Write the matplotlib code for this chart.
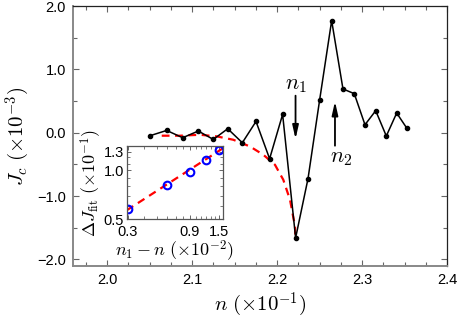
import numpy as np
import matplotlib
matplotlib.use("Agg")
import matplotlib.pyplot as plt
from matplotlib.ticker import MultipleLocator, FixedLocator, NullFormatter, FixedFormatter

plt.rcParams["font.family"] = ["Liberation Sans", "DejaVu Sans"]
plt.rcParams["mathtext.fontset"] = "cm"

# ---- main series: J_c vs n ----
n_vals = [2.0506, 2.0702, 2.0890, 2.1074, 2.1251, 2.1420, 2.1592, 2.1753,
          2.1913, 2.2066, 2.2219, 2.2365, 2.2502, 2.2643, 2.2776, 2.2909,
          2.3035, 2.3161, 2.3286, 2.3408, 2.3526]
jc_vals = [-0.047, 0.036, -0.079, 0.027, -0.106, 0.063, -0.158, 0.178,
           -0.411, 0.289, -1.66, -0.723, 0.522, 1.77, 0.691, 0.617,
           0.126, 0.348, -0.052, 0.311, 0.074]

# ---- fitted curve ----
fit_n = [2.0644, 2.0859, 2.1094, 2.1291, 2.1486, 2.1682, 2.1839, 2.1976,
         2.2074, 2.2153, 2.2212, 2.2215]
fit_jc = [-0.047, -0.047, -0.032, -0.058, -0.111, -0.217, -0.348, -0.506,
          -0.743, -1.059, -1.481, -1.665]

# ---- inset: Delta J_fit vs n1 - n ----
dn_vals = [0.3, 0.6, 0.9, 1.2, 1.5]
dj_vals = [0.576, 0.808, 0.98, 1.155, 1.34]
line_dn = [0.295, 1.63]
line_dj = [0.568, 1.37]

fig = plt.figure(figsize=(4.58, 3.19), dpi=100)
ax = fig.add_axes([0.1594, 0.167, 0.8166, 0.814])

ax.plot(fit_n, fit_jc, color="red", ls=(0, (3.5, 2.5)), lw=1.6, zorder=2)
ax.plot(n_vals, jc_vals, color="black", lw=1.1, marker="o", ms=3, zorder=3)

ax.set_xlim(1.96, 2.4)
ax.set_ylim(-2.1, 2.0)
ax.xaxis.set_major_locator(FixedLocator([2.0, 2.1, 2.2, 2.3, 2.4]))
ax.xaxis.set_minor_locator(MultipleLocator(0.025))
ax.yaxis.set_major_locator(FixedLocator([-2.0, -1.0, 0.0, 1.0, 2.0]))
ax.yaxis.set_minor_locator(MultipleLocator(0.5))
ax.xaxis.set_major_formatter(plt.FuncFormatter(lambda v, p: f"{v:.1f}"))
ax.yaxis.set_major_formatter(plt.FuncFormatter(lambda v, p: f"{v:.1f}".replace("-", "\u2212")))
ax.tick_params(which="both", direction="in", top=True, right=True, labelsize=10.5,
               color="#666666")
ax.tick_params(which="major", length=4, width=0.8, pad=5)
ax.tick_params(which="minor", length=3, width=0.8)
for side in ["left", "bottom"]:
    ax.spines[side].set_color("#888888")
    ax.spines[side].set_linewidth(1.4)
for side in ["top", "right"]:
    ax.spines[side].set_color("#222222")
    ax.spines[side].set_linewidth(0.9)

ax.set_xlabel(r"$n\ (\times 10^{-1})$", fontsize=15, labelpad=3)
ax.set_ylabel(r"$J_c\ (\times 10^{-3})$", fontsize=15, labelpad=4)

arrow = dict(arrowstyle="-|>,head_width=0.18,head_length=0.8", color="black", lw=1.3,
             shrinkA=0, shrinkB=0)
ax.annotate("", xy=(2.2218, -0.10), xytext=(2.2218, 0.585), arrowprops=arrow)
ax.annotate("", xy=(2.2682, 0.495), xytext=(2.2682, -0.205), arrowprops=arrow)
ax.text(2.2224, 0.76, r"$n_1$", fontsize=16, ha="center", va="center")
ax.text(2.275, -0.39, r"$n_2$", fontsize=16, ha="center", va="center")

# ---- inset ----
ins = fig.add_axes([0.2766, 0.3125, 0.211, 0.2298])
ins.plot(line_dn, line_dj, color="red", ls=(0, (3.5, 2.5)), lw=1.6)
ins.plot(dn_vals, dj_vals, ls="none", marker="o", ms=5.5, mfc="none", mec="blue", mew=1.5)
ins.set_xscale("log")
ins.set_yscale("log")
ins.set_xlim(0.295, 1.63)
ins.set_ylim(0.5, 1.41)
ins.xaxis.set_major_locator(FixedLocator([0.3, 0.9, 1.5]))
ins.xaxis.set_major_formatter(FixedFormatter(["0.3", "0.9", "1.5"]))
ins.xaxis.set_minor_locator(FixedLocator([0.4, 0.5, 0.6, 0.7, 0.8, 1.0, 1.1, 1.2, 1.3, 1.4]))
ins.xaxis.set_minor_formatter(NullFormatter())
ins.yaxis.set_major_locator(FixedLocator([0.5, 1.0, 1.3]))
ins.yaxis.set_major_formatter(FixedFormatter(["0.5", "1.0", "1.3"]))
ins.yaxis.set_minor_locator(FixedLocator([0.6, 0.7, 0.8, 0.9, 1.1, 1.2]))
ins.yaxis.set_minor_formatter(NullFormatter())
ins.tick_params(which="both", direction="in", top=True, right=True, labelsize=10.5,
                color="#666666", pad=2)
ins.tick_params(axis="x", which="major", pad=4)
ins.tick_params(which="major", length=3, width=0.7)
ins.tick_params(which="minor", length=2, width=0.6)
for s in ins.spines.values():
    s.set_color("#555555")
    s.set_linewidth(0.9)
ins.set_xlabel(r"$n_1 - n\ (\times 10^{-2})$", fontsize=13, labelpad=0)
ins.set_ylabel(r"$\Delta J_{\rm fit}\ (\times 10^{-1})$", fontsize=13, labelpad=0)

fig.savefig("out.png", dpi=100)
